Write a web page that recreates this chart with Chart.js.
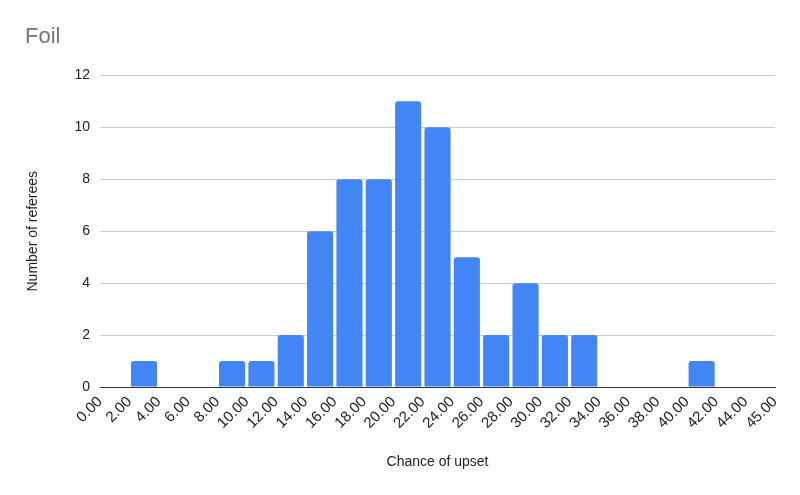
<!DOCTYPE html>
<html>
<head>
<meta charset="utf-8">
<script src="https://cdn.jsdelivr.net/npm/chart.js@4"></script>
<style>
  html, body { margin: 0; padding: 0; background: #fff; }
  #wrap { width: 800px; height: 495px; }
</style>
</head>
<body>
<div id="wrap"><canvas id="histChart"></canvas></div>
<script>
// Bin edge labels (Google-Sheets style histogram, bucket size 2)
const edgeLabels = ['0.00', '2.00', '4.00', '6.00', '8.00', '10.00', '12.00', '14.00', '16.00',
  '18.00', '20.00', '22.00', '24.00', '26.00', '28.00', '30.00', '32.00', '34.00', '36.00',
  '38.00', '40.00', '42.00', '44.00', '45.00'];

// Count of referees in each bucket (one per gap between edges)
const counts = [0, 1, 0, 0, 1, 1, 2, 6, 8, 8, 11, 10, 5, 2, 4, 2, 2, 0, 0, 0, 1, 0, 0];

const yTicks = [0, 2, 4, 6, 8, 10, 12];

const textColor = '#222222';
const font = 'Arial, "Liberation Sans", sans-serif';

// bars sit in the middle of each bucket
const points = counts.map((c, i) => ({ x: i + 0.5, y: c }));

const ctx = document.getElementById('histChart').getContext('2d');
new Chart(ctx, {
  type: 'bar',
  data: {
    datasets: [{
      label: 'Foil',
      data: points,
      backgroundColor: '#4285f4',
      borderRadius: { topLeft: 3, topRight: 3 },
      borderSkipped: 'bottom',
      barPercentage: 1,
      categoryPercentage: 0.89
    }]
  },
  options: {
    responsive: true,
    maintainAspectRatio: false,
    animation: false,
    layout: { padding: { left: 25, right: 25, top: 0, bottom: 20 } },
    plugins: {
      legend: { display: false },
      tooltip: { enabled: false },
      title: {
        display: true,
        text: 'Foil',
        align: 'start',
        color: '#757575',
        font: { family: font, size: 22, weight: 'normal', lineHeight: 1.2 },
        padding: { top: 24, bottom: 25 }
      }
    },
    scales: {
      x: {
        type: 'linear',
        offset: false,
        min: 0,
        max: counts.length,
        afterBuildTicks: (axis) => {
          axis.ticks = edgeLabels.map((l, i) => ({ value: i }));
        },
        afterFit: (axis) => { axis.height = 88; },
        grid: { display: false, drawTicks: false, offset: false },
        border: { display: true, color: '#333333', width: 1 },
        ticks: {
          color: textColor,
          font: { family: font, size: 15 },
          maxRotation: 45,
          minRotation: 45,
          autoSkip: false,
          padding: 6,
          callback: (v) => edgeLabels[v]
        },
        title: {
          display: true,
          text: 'Chance of upset',
          color: textColor,
          font: { family: font, size: 14 }
        }
      },
      y: {
        min: 0,
        max: 12,
        afterBuildTicks: (axis) => {
          axis.ticks = yTicks.map(v => ({ value: v }));
        },
        afterFit: (axis) => { axis.width = 75; },
        grid: {
          color: (c) => c.tick && c.tick.value === 0 ? 'rgba(0,0,0,0)' : '#cccccc',
          drawTicks: false
        },
        border: { display: false },
        ticks: {
          color: textColor,
          font: { family: font, size: 14 },
          padding: 10
        },
        title: {
          display: true,
          text: 'Number of referees',
          color: textColor,
          font: { family: font, size: 14 },
          padding: { top: 0, bottom: 0 }
        }
      }
    }
  }
});
</script>
</body>
</html>
